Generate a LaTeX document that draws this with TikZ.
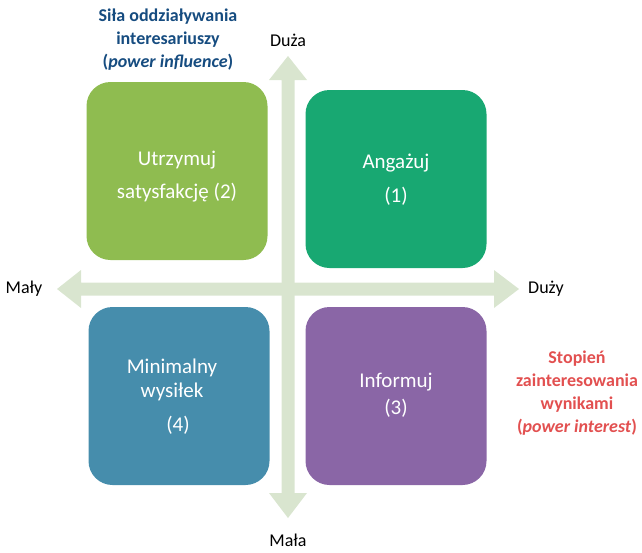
\documentclass[tikz,border=0pt]{standalone}
\usepackage{fontspec}
\setmainfont{Carlito}
\usetikzlibrary{positioning}
\definecolor{arrowc}{RGB}{217,229,207}
\definecolor{boxg}{RGB}{143,188,80}
\definecolor{boxt}{RGB}{24,168,114}
\definecolor{boxb}{RGB}{70,141,172}
\definecolor{boxp}{RGB}{138,102,166}
\definecolor{titleblue}{RGB}{22,76,128}
\definecolor{titlered}{RGB}{226,80,80}
\tikzset{
  quad/.style={rounded corners=24pt, minimum width=181pt, minimum height=178pt, inner sep=0pt},
  qtext/.style={text=white, font=\fontsize{21}{21}\selectfont, inner sep=0pt, anchor=center},
  axlab/.style={font=\fontsize{18}{18}\selectfont, inner sep=0pt, anchor=center},
  ttl/.style={font=\fontsize{18}{23}\selectfont\bfseries, align=center, inner sep=0pt, anchor=center},
}
\begin{document}
\begin{tikzpicture}[x=1pt,y=-1pt]
\useasboundingbox (0,0) rectangle (642,552);
% axes
\fill[arrowc] (281.5,80) -- (269,80) -- (288,56) -- (307,80) -- (294.5,80) -- (294.5,493) -- (307,493) -- (288,518) -- (269,493) -- (281.5,493) -- cycle;
\fill[arrowc] (81,282.5) -- (81,270) -- (57,289) -- (81,308) -- (81,295.5) -- (494,295.5) -- (494,308) -- (519,289) -- (494,270) -- (494,282.5) -- cycle;
% quadrants
\node[quad, fill=boxg] (q2) at (177,171) {};
\node[quad, fill=boxt] (q1) at (396,179) {};
\node[quad, fill=boxb] (q4) at (179,396) {};
\node[quad, fill=boxp] (q3) at (396,396) {};
% quadrant texts
\node[qtext] (t2a) at (177,160) {Utrzymuj};
\node[qtext] (t2b) at (177,193) {satysfakcję (2)};
\node[qtext] (t1a) at (396,163) {Angażuj};
\node[qtext] (t1b) at (396,196) {(1)};
\node[qtext] (t4a) at (172,368) {Minimalny};
\node[qtext] (t4b) at (172,392) {wysiłek};
\node[qtext] (t4c) at (178,425) {(4)};
\node[qtext] (t3a) at (396,382) {Informuj};
\node[qtext] (t3b) at (396,408) {(3)};
% axis labels
\node[axlab] (duza) at (288,40) {Duża};
\node[axlab] (mala) at (288,540) {Mała};
\node[axlab] (maly) at (24,289) {Mały};
\node[axlab] (duzy) at (546,289) {Duży};
% titles
\node[ttl, text=titleblue] (tb) at (168,40) {Siła oddziaływania\\interesariuszy\\(\textit{power influence})};
\node[ttl, text=titlered] (tr) at (577,393) {Stopień\\zainteresowania\\wynikami\\(\textit{power interest})};
\end{tikzpicture}
\end{document}
